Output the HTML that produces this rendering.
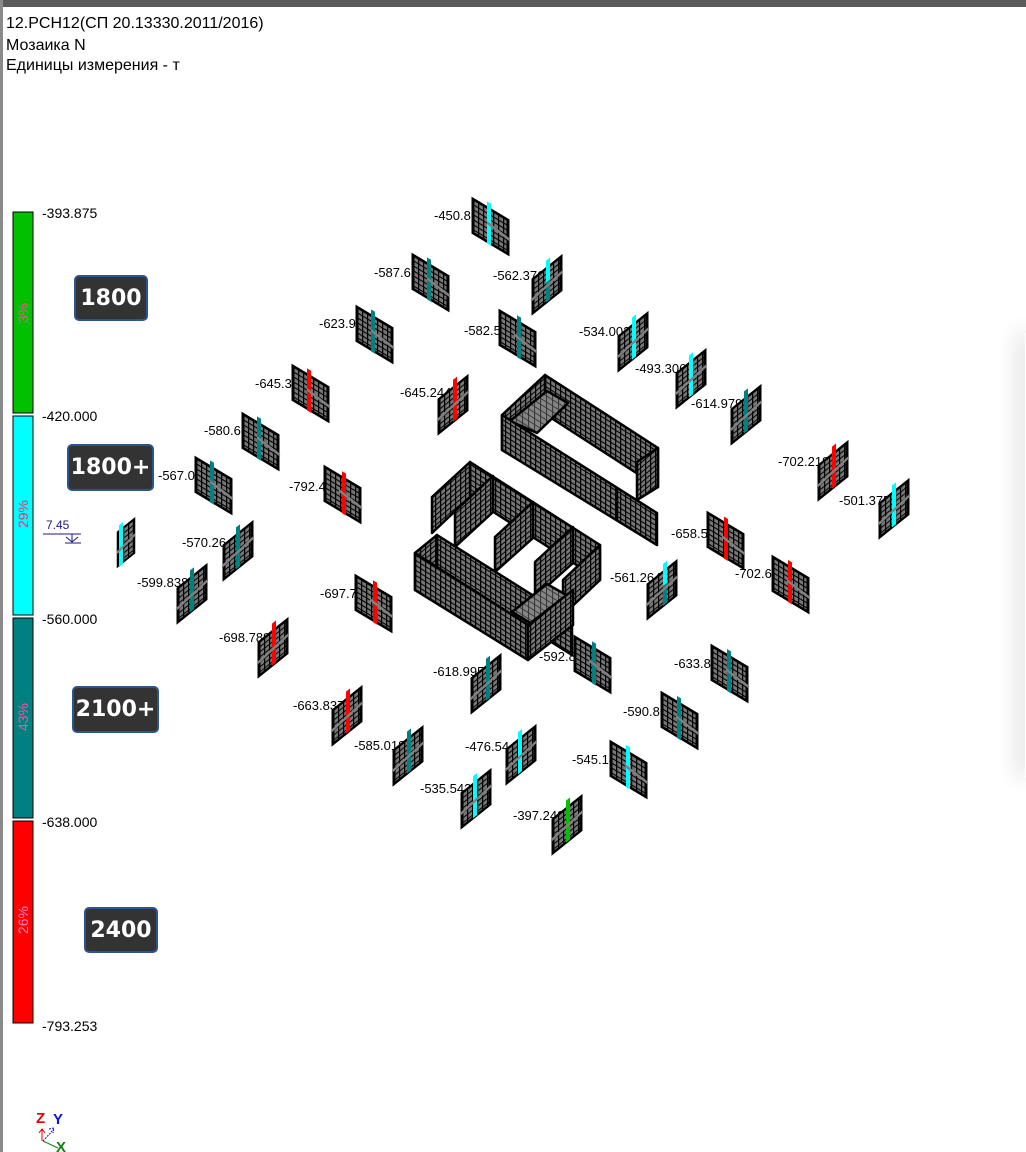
<!DOCTYPE html>
<html><head><meta charset="utf-8"><style>
html,body{margin:0;padding:0;background:#fff;}
body{width:1026px;height:1152px;position:relative;overflow:hidden;font-family:"Liberation Sans",sans-serif;}
.box{position:absolute;background:#333;border:2px solid #2c5490;border-radius:5px;color:#fff;font-weight:bold;font-size:22px;display:flex;align-items:center;justify-content:center;font-family:"DejaVu Sans","Liberation Sans",sans-serif;box-sizing:border-box;}
</style></head><body>
<div style="position:absolute;left:0;top:0;width:1026px;height:7px;background:#5a5a5a"></div>
<div style="position:absolute;left:0;top:0;width:3px;height:1152px;background:#8a8a8a"></div>
<div style="position:absolute;left:1025px;top:333px;width:10px;height:444px;background:#fff;box-shadow:-6px 0 22px rgba(0,0,0,0.18)"></div>
<svg width="1026" height="1152" style="position:absolute;left:0;top:0" xmlns="http://www.w3.org/2000/svg">
<defs>
<pattern id="g" width="5" height="5" patternUnits="userSpaceOnUse"><rect width="5" height="5" fill="#777"/><path d="M0 0.6H5M0.6 0V5" stroke="#000" stroke-width="1.3"/></pattern>
<pattern id="gA" width="5" height="5" patternUnits="userSpaceOnUse" patternTransform="skewY(32)"><rect width="5" height="5" fill="#777"/><path d="M0 0.6H5M0.6 0V5" stroke="#000" stroke-width="1.3"/></pattern>
<pattern id="gB" width="5" height="5" patternUnits="userSpaceOnUse" patternTransform="skewY(-40)"><rect width="5" height="5" fill="#777"/><path d="M0 0.6H5M0.6 0V5" stroke="#000" stroke-width="1.3"/></pattern>
<pattern id="gS" width="6" height="6" patternUnits="userSpaceOnUse" patternTransform="skewY(32)"><rect width="6" height="6" fill="#858585"/><path d="M0 0.5H6M0.5 0V6" stroke="#333" stroke-width="1"/></pattern>
<g id="pa"><rect x="0" y="0" width="35" height="34" fill="url(#g)" stroke="#000" stroke-width="3"/></g>
<g id="pb"><rect x="0" y="0" width="28" height="34" fill="url(#g)" stroke="#000" stroke-width="3"/></g>
<g id="la"><line x1="14" y1="15" x2="37" y2="19" stroke="#808080" stroke-width="3"/></g>
<g id="lb"><line x1="-2" y1="20" x2="30" y2="16" stroke="#808080" stroke-width="3"/></g>
</defs>

<g font-family="Liberation Sans, sans-serif" font-size="16" fill="#000">
<text x="6" y="28">12.PCH12(СП 20.13330.2011/2016)</text>
<text x="6" y="50">Мозаика N</text>
<text x="6" y="70">Единицы измерения - т</text>
</g>

<rect x="13" y="212" width="20" height="201" fill="#00c000" stroke="#000"/>
<rect x="13" y="416" width="20" height="199" fill="#00ffff" stroke="#000"/>
<rect x="13" y="618" width="20" height="200" fill="#008080" stroke="#000"/>
<rect x="13" y="821" width="20" height="202" fill="#ff0000" stroke="#000"/>
<g font-family="Liberation Sans, sans-serif" font-size="14" fill="#ff4da6">
<text transform="translate(28,313) rotate(-90)" text-anchor="middle">3%</text>
<text transform="translate(28,514) rotate(-90)" text-anchor="middle" fill="#f0306a">29%</text>
<text transform="translate(28,717) rotate(-90)" text-anchor="middle">43%</text>
<text transform="translate(28,920) rotate(-90)" text-anchor="middle" fill="#ff80c0">26%</text>
</g>
<g font-family="Liberation Sans, sans-serif" font-size="14" fill="#000">
<text x="42" y="218">-393.875</text>
<text x="42" y="421">-420.000</text>
<text x="42" y="624">-560.000</text>
<text x="42" y="827">-638.000</text>
<text x="42" y="1031">-793.253</text>
</g>
<text x="46" y="529" font-family="Liberation Sans, sans-serif" font-size="12" fill="#1a1a8a">7.45</text>
<path d="M43 534H81M72 534V542M66 537L72 542L78 537M65 543H81" stroke="#1a1a8a" fill="none" stroke-width="1"/>

<text x="36" y="1123" font-family="Liberation Sans, sans-serif" font-weight="bold" font-size="15" fill="#e00000">Z</text>
<text x="53" y="1124" font-family="Liberation Sans, sans-serif" font-weight="bold" font-size="15" fill="#1010e0">Y</text>
<text x="56" y="1152" font-family="Liberation Sans, sans-serif" font-weight="bold" font-size="15" fill="#108010">X</text>
<path d="M42 1141V1129M39 1133L42 1129L45 1133" stroke="#e00000" fill="none"/>
<path d="M43 1141L54 1129M49 1129L54 1128L53 1133" stroke="#1010e0" fill="none" stroke-dasharray="2 1"/>
<path d="M43 1141L58 1148" stroke="#108010" fill="none"/>

<g font-family="Liberation Sans, sans-serif" font-size="13" fill="#000">
<text x="434" y="220">-450.892</text>
<text x="374" y="277">-587.665</text>
<text x="319" y="328">-623.937</text>
<text x="255" y="388">-645.365</text>
<text x="400" y="397">-645.244</text>
<text x="204" y="435">-580.673</text>
<text x="158" y="480">-567.021</text>
<text x="289" y="491">-792.461</text>
<text x="464" y="335">-582.575</text>
<text x="493" y="280">-562.376</text>
<text x="579" y="336">-534.003</text>
<text x="635" y="373">-493.306</text>
<text x="691" y="408">-614.979</text>
<text x="778" y="466">-702.219</text>
<text x="839" y="505">-501.375</text>
<text x="182" y="547">-570.264</text>
<text x="137" y="587">-599.838</text>
<text x="320" y="598">-697.745</text>
<text x="219" y="642">-698.789</text>
<text x="293" y="710">-663.837</text>
<text x="354" y="750">-585.018</text>
<text x="433" y="676">-618.995</text>
<text x="420" y="793">-535.542</text>
<text x="465" y="751">-476.544</text>
<text x="671" y="538">-658.598</text>
<text x="610" y="582">-561.264</text>
<text x="735" y="578">-702.674</text>
<text x="539" y="661">-592.859</text>
<text x="674" y="668">-633.899</text>
<text x="623" y="716">-590.805</text>
<text x="572" y="764">-545.142</text>
<text x="513" y="820">-397.242</text>
</g>

<g stroke="#000" stroke-width="2.5" stroke-linejoin="round">
<polygon points="545,375 658,448 658,487 545,414" fill="url(#gA)"/>
<polygon points="637,462 658,448 658,487 637,500" fill="url(#gB)"/>
<polygon points="502,415 545,375 545,410 502,450" fill="url(#gB)"/>
<polygon points="510,421 547,391 568,403 537,433" fill="url(#gS)"/>
<polygon points="502,415 657,513 657,545 502,450" fill="url(#gA)"/>
<line x1="617" y1="487" x2="617" y2="520"/>
<polygon points="470,462 600,545 600,580 470,497" fill="url(#gA)"/>
<polygon points="432,497 470,462 470,497 432,533" fill="url(#gB)"/>
<polygon points="455,511 493,476 493,512 455,547" fill="url(#gB)"/>
<polygon points="495,537 533,502 533,538 495,572" fill="url(#gB)"/>
<polygon points="535,562 573,527 573,563 535,597" fill="url(#gB)"/>
<polygon points="563,580 600,545 600,580 563,615" fill="url(#gB)"/>
<polygon points="437,535 572,620 572,655 437,570" fill="url(#gA)"/>
<polygon points="415,553 437,535 437,570 415,590" fill="url(#gB)"/>
<polygon points="512,612 547,584 568,596 532,624" fill="url(#gS)"/>
<polygon points="415,553 528,625 528,660 415,590" fill="url(#gA)"/>
<polygon points="528,625 573,590 573,625 528,660" fill="url(#gB)"/>
</g>

<g>
<g transform="matrix(1,0.6,0,1,473,199)"><use href="#pa"/><rect x="14" y="-6" width="4" height="42" fill="#00ffff"/><use href="#la"/></g>
<g transform="matrix(1,0.6,0,1,413,255)"><use href="#pa"/><rect x="14" y="-6" width="4" height="42" fill="#008080"/><use href="#la"/></g>
<g transform="matrix(1,0.6,0,1,357,307)"><use href="#pa"/><rect x="14" y="-6" width="4" height="42" fill="#008080"/><use href="#la"/></g>
<g transform="matrix(1,0.6,0,1,293,366)"><use href="#pa"/><rect x="14" y="-6" width="4" height="42" fill="#ff0000"/><use href="#la"/></g>
<g transform="matrix(1,0.6,0,1,243,414)"><use href="#pa"/><rect x="14" y="-6" width="4" height="42" fill="#008080"/><use href="#la"/></g>
<g transform="matrix(1,0.6,0,1,196,458)"><use href="#pa"/><rect x="14" y="-6" width="4" height="42" fill="#008080"/><use href="#la"/></g>
<g transform="matrix(1,0.6,0,1,325,467)"><use href="#pa"/><rect x="17" y="-6" width="4" height="42" fill="#ff0000"/><use href="#la"/></g>
<g transform="matrix(1,0.6,0,1,500,311)"><use href="#pa"/><rect x="17" y="-6" width="4" height="42" fill="#008080"/><use href="#la"/></g>
<g transform="matrix(1,0.6,0,1,356,576)"><use href="#pa"/><rect x="17" y="-6" width="4" height="42" fill="#ff0000"/><use href="#la"/></g>
<g transform="matrix(1,0.6,0,1,708,513)"><use href="#pa"/><rect x="16" y="-6" width="4" height="42" fill="#ff0000"/><use href="#la"/></g>
<g transform="matrix(1,0.6,0,1,773,557)"><use href="#pa"/><rect x="15" y="-6" width="4" height="42" fill="#ff0000"/><use href="#la"/></g>
<g transform="matrix(1,0.6,0,1,575,637)"><use href="#pa"/><rect x="17" y="-6" width="4" height="42" fill="#008080"/><use href="#la"/></g>
<g transform="matrix(1,0.6,0,1,712,646)"><use href="#pa"/><rect x="15" y="-6" width="4" height="42" fill="#008080"/><use href="#la"/></g>
<g transform="matrix(1,0.6,0,1,662,693)"><use href="#pa"/><rect x="15" y="-6" width="4" height="42" fill="#008080"/><use href="#la"/></g>
<g transform="matrix(1,0.6,0,1,611,742)"><use href="#pa"/><rect x="15" y="-6" width="4" height="42" fill="#00ffff"/><use href="#la"/></g>
</g>
<g>
<g transform="matrix(1,-0.8,0,1,439,399)"><use href="#pb"/><rect x="14" y="-8" width="4" height="42" fill="#ff0000"/><use href="#lb"/></g>
<g transform="matrix(1,-0.8,0,1,533,279)"><use href="#pb"/><rect x="13" y="-8" width="4" height="22" fill="#00ffff"/><rect x="13" y="14" width="4" height="20" fill="#008080"/><use href="#lb"/></g>
<g transform="matrix(1,-0.8,0,1,619,336)"><use href="#pb"/><rect x="13" y="-8" width="4" height="42" fill="#00ffff"/><use href="#lb"/></g>
<g transform="matrix(1,-0.8,0,1,677,373)"><use href="#pb"/><rect x="12" y="-8" width="4" height="42" fill="#00ffff"/><use href="#lb"/></g>
<g transform="matrix(1,-0.8,0,1,732,409)"><use href="#pb"/><rect x="12" y="-8" width="4" height="42" fill="#008080"/><use href="#lb"/></g>
<g transform="matrix(1,-0.8,0,1,819,465)"><use href="#pb"/><rect x="13" y="-8" width="4" height="42" fill="#ff0000"/><use href="#lb"/></g>
<g transform="matrix(1,-0.8,0,1,880,503)"><use href="#pb"/><rect x="12" y="-8" width="4" height="42" fill="#00ffff"/><use href="#lb"/></g>
<g transform="matrix(1,-0.8,0,1,118,532)"><rect width="16" height="34" fill="url(#g)" stroke="#000" stroke-width="2.5"/><rect x="1" y="-6" width="4" height="42" fill="#00ffff"/><line x1="-1" y1="20" x2="17" y2="16" stroke="#808080" stroke-width="3"/></g>
<g transform="matrix(1,-0.8,0,1,224,545)"><use href="#pb"/><rect x="12" y="-8" width="4" height="42" fill="#008080"/><use href="#lb"/></g>
<g transform="matrix(1,-0.8,0,1,178,588)"><use href="#pb"/><rect x="12" y="-8" width="4" height="42" fill="#008080"/><use href="#lb"/></g>
<g transform="matrix(1,-0.8,0,1,259,642)"><use href="#pb"/><rect x="13" y="-8" width="4" height="42" fill="#ff0000"/><use href="#lb"/></g>
<g transform="matrix(1,-0.8,0,1,333,710)"><use href="#pb"/><rect x="13" y="-8" width="4" height="42" fill="#ff0000"/><use href="#lb"/></g>
<g transform="matrix(1,-0.8,0,1,394,750)"><use href="#pb"/><rect x="13" y="-8" width="4" height="42" fill="#008080"/><use href="#lb"/></g>
<g transform="matrix(1,-0.8,0,1,472,678)"><use href="#pb"/><rect x="14" y="-8" width="4" height="42" fill="#008080"/><use href="#lb"/></g>
<g transform="matrix(1,-0.8,0,1,462,793)"><use href="#pb"/><rect x="11" y="-8" width="4" height="42" fill="#00ffff"/><use href="#lb"/></g>
<g transform="matrix(1,-0.8,0,1,507,749)"><use href="#pb"/><rect x="11" y="-8" width="4" height="42" fill="#00ffff"/><use href="#lb"/></g>
<g transform="matrix(1,-0.8,0,1,648,584)"><use href="#pb"/><rect x="15" y="-8" width="4" height="22" fill="#00ffff"/><rect x="15" y="14" width="4" height="20" fill="#008080"/><use href="#lb"/></g>
<g transform="matrix(1,-0.8,0,1,553,819)"><use href="#pb"/><rect x="13" y="-8" width="4" height="42" fill="#00c000"/><use href="#lb"/></g>
</g>
</svg>
<div class="box" style="left:74px;top:275px;width:74px;height:46px">1800</div>
<div class="box" style="left:67px;top:444px;width:87px;height:47px">1800+</div>
<div class="box" style="left:72px;top:686px;width:87px;height:47px">2100+</div>
<div class="box" style="left:84px;top:907px;width:74px;height:46px">2400</div>
</body></html>
